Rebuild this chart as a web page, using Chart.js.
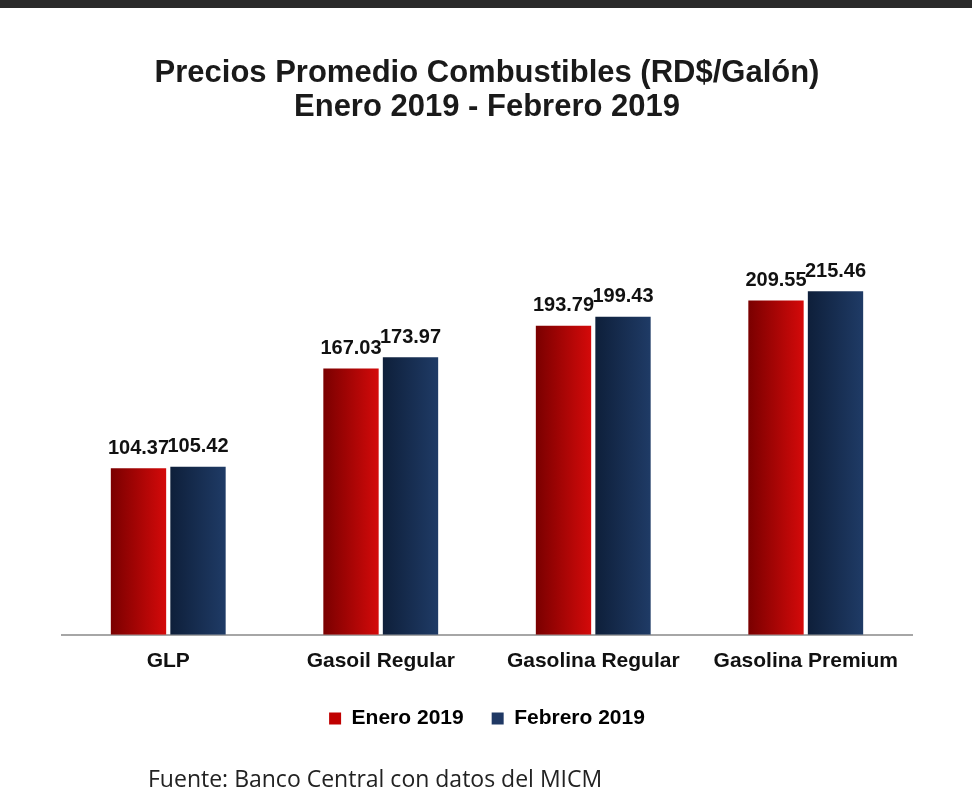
<!DOCTYPE html>
<html>
<head>
<meta charset="utf-8">
<script src="https://cdn.jsdelivr.net/npm/chart.js@4"></script>
<style>
  body { margin: 0; background: #fff; }
  #bar { height: 8px; background: #2a2a2a; }
  #wrap { position: relative; width: 972px; height: 803px; }
</style>
</head>
<body>
<div id="bar"></div>
<div id="wrap"><canvas id="c"></canvas></div>
<script>
const categories = ['GLP', 'Gasoil Regular', 'Gasolina Regular', 'Gasolina Premium'];
const enero = [104.37, 167.03, 193.79, 209.55];
const febrero = [105.42, 173.97, 199.43, 215.46];

// horizontal gradient across each bar, dark on the left
function barFill(dark, light) {
  return (ctx) => {
    const el = ctx.chart.getDatasetMeta(ctx.datasetIndex).data[ctx.dataIndex];
    if (!el || !el.width) return light;
    const g = ctx.chart.ctx.createLinearGradient(el.x - el.width / 2, 0, el.x + el.width / 2, 0);
    g.addColorStop(0, dark);
    g.addColorStop(1, light);
    return g;
  };
}

const valueLabels = {
  id: 'valueLabels',
  afterDatasetsDraw(chart) {
    const c = chart.ctx;
    c.save();
    c.font = 'bold 20px "Liberation Sans", Arial';
    c.fillStyle = '#111';
    c.textAlign = 'center';
    c.textBaseline = 'bottom';
    chart.data.datasets.forEach((ds, i) => {
      chart.getDatasetMeta(i).data.forEach((el, j) => {
        c.fillText(ds.data[j].toFixed(2), el.x, el.y - 10);
      });
    });
    c.restore();
  },
};

const footer = {
  id: 'footer',
  afterDraw(chart) {
    const c = chart.ctx;
    c.save();
    c.font = '23px "Open Sans", sans-serif';
    c.fillStyle = '#222';
    c.textBaseline = 'middle';
    c.fillText('Fuente: Banco Central con datos del MICM', 148, 772);
    c.restore();
  },
};

const chart = new Chart(document.getElementById('c'), {
  type: 'bar',
  data: {
    labels: categories,
    datasets: [
      { label: 'Enero 2019', data: enero, backgroundColor: barFill('#7a0000', '#d40a0a'), legendColor: '#c00000' },
      { label: 'Febrero 2019', data: febrero, backgroundColor: barFill('#0e1f3a', '#1f3b66'), legendColor: '#1f3864' },
    ],
  },
  options: {
    responsive: true,
    maintainAspectRatio: false,
    animation: false,
    layout: { padding: { left: 62, right: 60, bottom: 72 } },
    datasets: { bar: { categoryPercentage: 0.56, barPercentage: 0.93 } },
    scales: {
      x: {
        grid: { display: false },
        border: { color: '#a6a6a6', width: 2 },
        ticks: { color: '#111', font: { family: '"Liberation Sans", Arial', size: 21, weight: 'bold' }, padding: 6 },
      },
      y: { display: false, min: 0, max: 280 },
    },
    plugins: {
      title: {
        display: true,
        text: ['Precios Promedio Combustibles (RD$/Galón)', 'Enero 2019 - Febrero 2019'],
        color: '#1a1a1a',
        font: { family: '"Liberation Sans", Arial', size: 31, weight: 'bold', lineHeight: 1.1 },
        padding: { top: 48, bottom: 64 },
      },
      legend: {
        position: 'bottom',
        labels: {
          color: '#111',
          font: { family: '"Liberation Sans", Arial', size: 21, weight: 'bold' },
          boxWidth: 12,
          boxHeight: 12,
          padding: 28,
          generateLabels: (ch) => ch.data.datasets.map((ds, i) => ({
            text: ds.label, fillStyle: ds.legendColor, strokeStyle: ds.legendColor, lineWidth: 0, datasetIndex: i,
          })),
        },
      },
      tooltip: { enabled: false },
    },
  },
  plugins: [valueLabels, footer],
});
chart.update();
</script>
</body>
</html>
